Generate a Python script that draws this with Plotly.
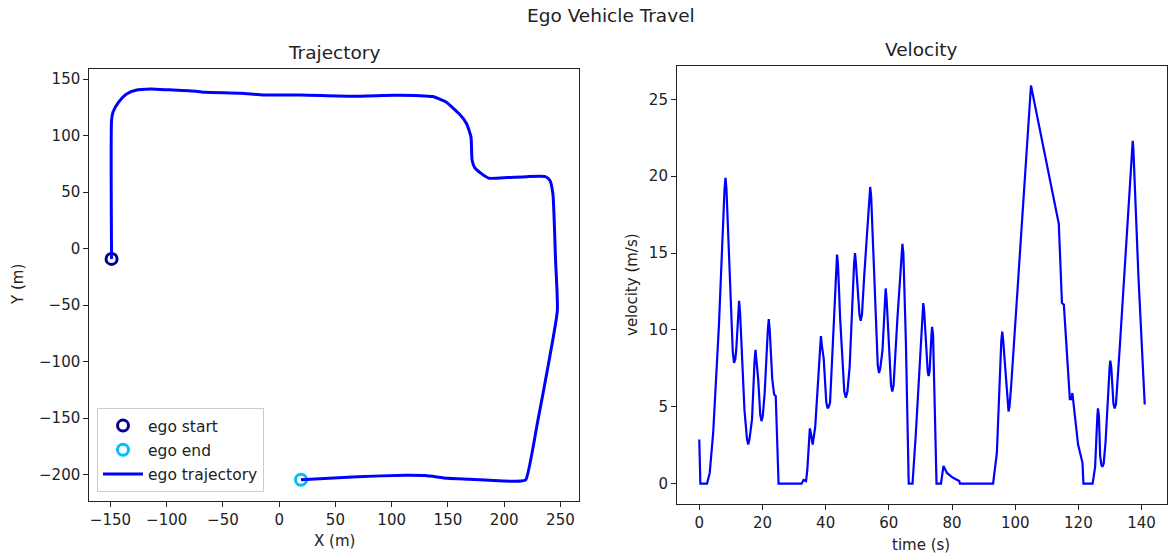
import plotly.graph_objects as go

# ---------------- data ----------------
traj_x = [-149, -149, -147.7, -142.6, -136, -127.6, -114.2, -97.5, -74, -65.8, -34, -14,
          19.4, 64.5, 103, 125, 136.4, 148, 159.8, 166.5, 170.5, 171.5, 173.8, 179.8,
          186.5, 203.2, 219.9, 236.6, 240.6, 243.3, 245.7, 247.3, 240, 230, 219.3,
          215, 199.9, 169.8, 149.7, 129.7, 113, 69.5, 19.4]
traj_y = [-9, 113.7, 121, 130, 136.7, 140.3, 141.4, 140.6, 139.4, 138.5, 137.6, 136.1,
          136.1, 135, 135.8, 135.5, 134.7, 130, 119.6, 110.8, 99, 78.3, 71.8, 66.5,
          62.4, 63, 63.8, 63.8, 60.6, 48.8, -10.2, -54.5, -98.7, -151.9, -204.4,
          -205.6, -205.6, -204.1, -203.2, -200.8, -200.5, -201.7, -204.4]

start_xy = (-149, -9)
end_xy = (19.4, -204.5)

time_s = [0, 0.35, 2.45, 3.3, 4.4, 6.2, 8.0, 8.3, 8.6, 9.1, 10, 10.6, 11, 11.4, 11.7, 12.3, 12.6,
          12.9, 13.4, 14.3, 15.1, 15.5, 15.9, 16.7, 17.5, 17.8, 18.1, 18.65, 19.3, 19.7, 20.1,
          20.7, 21.7, 22, 22.3, 23.1, 23.7, 24.2, 25.1, 32.4, 33, 33.8, 34.2, 34.8, 35, 35.3,
          35.9, 36.7, 38.2, 38.5, 38.8, 39.4, 40.2, 40.6, 41, 41.4, 42.3, 43.3, 43.6, 43.9,
          44.6, 45.9, 46.4, 46.9, 47.6, 49, 49.3, 49.6, 50.2, 50.7, 51.1, 51.5, 52.2, 53.8,
          54.1, 54.4, 55.1, 56.5, 56.9, 57.3, 58, 58.7, 59, 59.3, 59.8, 60.7, 61.1, 61.5,
          62.7, 64, 64.3, 64.6, 65.4, 66.3, 67.5, 68.5, 70.6, 70.9, 71.2, 71.8, 72.3, 72.6,
          72.9, 73.5, 73.7, 74, 74.4, 75.1, 76.5, 77.3, 78.4, 80.2, 82.3, 82.5, 93, 94.2,
          95.6, 95.9, 96.2, 97.1, 97.6, 97.9, 98.2, 98.8, 105, 113.8, 114.8, 115.4, 117.3,
          117.8, 118.1, 119, 119.9, 121.3, 121.6, 124.5, 125.3, 126, 126.2, 126.5, 126.9,
          127.3, 127.6, 128, 128.6, 129.9, 130.1, 130.4, 131.1, 131.5, 131.9, 133.2, 137,
          137.2, 137.4, 139, 141]
velocity = [2.88, 0, 0, 0.7, 3.3, 10.2, 19.2, 19.9, 19.2, 16.7, 11.1, 8.6, 7.86, 8.1, 8.7,
            11.2, 11.9, 11.2, 8.9, 4.8, 2.9, 2.55, 2.9, 4.2, 8.0, 8.7, 8.0, 6.8, 4.5, 4.07,
            4.4, 5.9, 10.0, 10.7, 10.0, 6.8, 5.8, 5.7, 0, 0, 0.24, 0.17, 0.9, 3.3, 3.6, 3.3,
            2.55, 3.7, 9.0, 9.6, 9.0, 8.1, 5.3, 4.9, 5.0, 5.3, 9.2, 14.3, 14.9, 14.3, 10.7,
            6.0, 5.6, 6.0, 7.6, 14.3, 15.0, 14.3, 12.6, 11.0, 10.6, 11.0, 13.5, 18.7, 19.3,
            18.7, 14.6, 7.7, 7.2, 7.5, 8.7, 12.0, 12.7, 12.0, 9.8, 6.4, 6.0, 6.4, 10.7, 15.0,
            15.6, 15.0, 9.2, 0, 0, 3.1, 11.2, 11.75, 11.2, 8.7, 7.3, 7.0, 7.3, 9.7, 10.2, 9.7,
            5.9, 0, 0, 1.15, 0.7, 0.4, 0.17, 0, 0, 2.0, 9.3, 9.9, 9.3, 6.8, 5.0, 4.7, 5.0,
            6.6, 25.9, 16.9, 11.75, 11.65, 5.5, 5.5, 5.9, 4.2, 2.55, 1.36, 0, 0, 1.1, 4.4, 4.9,
            4.4, 1.8, 1.2, 1.1, 1.3, 2.7, 7.6, 8.0, 7.6, 5.2, 4.9, 5.2, 9.2, 21.8, 22.3, 21.8,
            13.5, 5.15]

x_ticks_left = [-150, -100, -50, 0, 50, 100, 150, 200, 250]
y_ticks_left = [-200, -150, -100, -50, 0, 50, 100, 150]
x_ticks_right = [0, 20, 40, 60, 80, 100, 120, 140]
y_ticks_right = [0, 5, 10, 15, 20, 25]

# ---------------- figure ----------------
W, H = 1168, 559
FONT = "DejaVu Sans"
fig = go.Figure()

fig.add_trace(go.Scatter(x=[start_xy[0]], y=[start_xy[1]], mode="markers", name="ego start",
                         legendgroup="g1",
                         marker=dict(symbol="circle-open", size=11, color="#00008B",
                                     line=dict(width=3, color="#00008B")),
                         xaxis="x", yaxis="y"))
fig.add_trace(go.Scatter(x=[end_xy[0]], y=[end_xy[1]], mode="markers", name="ego end",
                         legendgroup="g2",
                         marker=dict(symbol="circle-open", size=11, color="#00BFFF",
                                     line=dict(width=3, color="#00BFFF")),
                         xaxis="x", yaxis="y"))
fig.add_trace(go.Scatter(x=traj_x, y=traj_y, mode="lines", name="ego trajectory",
                         legendgroup="g3",
                         line=dict(color="#0000FF", width=3, shape="spline", smoothing=0.5),
                         xaxis="x", yaxis="y"))
fig.add_trace(go.Scatter(x=time_s, y=velocity, mode="lines", name="velocity", showlegend=False,
                         line=dict(color="#0000FF", width=2.2), xaxis="x2", yaxis="y2"))

def px(x):
    return x / W

def py(y):
    return 1 - y / H

axis_common = dict(showgrid=False, zeroline=False, showline=True, linecolor="#222222",
                   linewidth=1.1, mirror=True, ticks="outside", ticklen=5, tickwidth=1.1,
                   tickcolor="#222222", tickfont=dict(family=FONT, size=15, color="#222222"))

fig.update_layout(
    width=W, height=H, margin=dict(l=0, r=0, t=0, b=0),
    paper_bgcolor="white", plot_bgcolor="white",
    font=dict(family=FONT, color="#222222"),
    xaxis=dict(domain=[px(89.3), px(579.3)], range=[-168.8, 266.8], tickvals=x_ticks_left,
               ticktext=[str(v).replace("-", "\u2212") for v in x_ticks_left], anchor="y",
               **axis_common),
    yaxis=dict(domain=[py(500.7), py(69.3)], range=[-223, 158.8], tickvals=y_ticks_left,
               ticktext=[str(v).replace("-", "\u2212") for v in y_ticks_left], anchor="x",
               **axis_common),
    xaxis2=dict(domain=[px(677), px(1167)], range=[-7.05, 148.05], tickvals=x_ticks_right,
                anchor="y2", **axis_common),
    yaxis2=dict(domain=[py(503.7), py(65.5)], range=[-1.3, 27.2], tickvals=y_ticks_right,
                anchor="x2", **axis_common),
    legend=dict(x=px(97), y=py(492), xanchor="left", yanchor="bottom",
                bgcolor="rgba(255,255,255,0.8)", bordercolor="#cccccc", borderwidth=1,
                itemwidth=40, tracegroupgap=1,
                font=dict(family=FONT, size=15.5, color="#222222")),
    showlegend=True,
)

annots = [
    dict(text="Ego Vehicle Travel", x=px(610.5), y=py(16), size=18.5, angle=0),
    dict(text="Trajectory", x=px(334), y=py(53), size=18.5, angle=0),
    dict(text="Velocity", x=px(921), y=py(49), size=18.5, angle=0),
    dict(text="X (m)", x=px(334), y=py(541), size=15, angle=0),
    dict(text="Y (m)", x=px(18), y=py(285), size=15, angle=-90),
    dict(text="time (s)", x=px(921), y=py(545), size=15, angle=0),
    dict(text="velocity (m/s)", x=px(632), y=py(285), size=15, angle=-90),
]
for a in annots:
    fig.add_annotation(text=a["text"], x=a["x"], y=a["y"], xref="paper", yref="paper",
                       xanchor="center", yanchor="middle", showarrow=False, textangle=a["angle"],
                       font=dict(family=FONT, size=a["size"], color="#222222"))

fig.write_html("out.html")
